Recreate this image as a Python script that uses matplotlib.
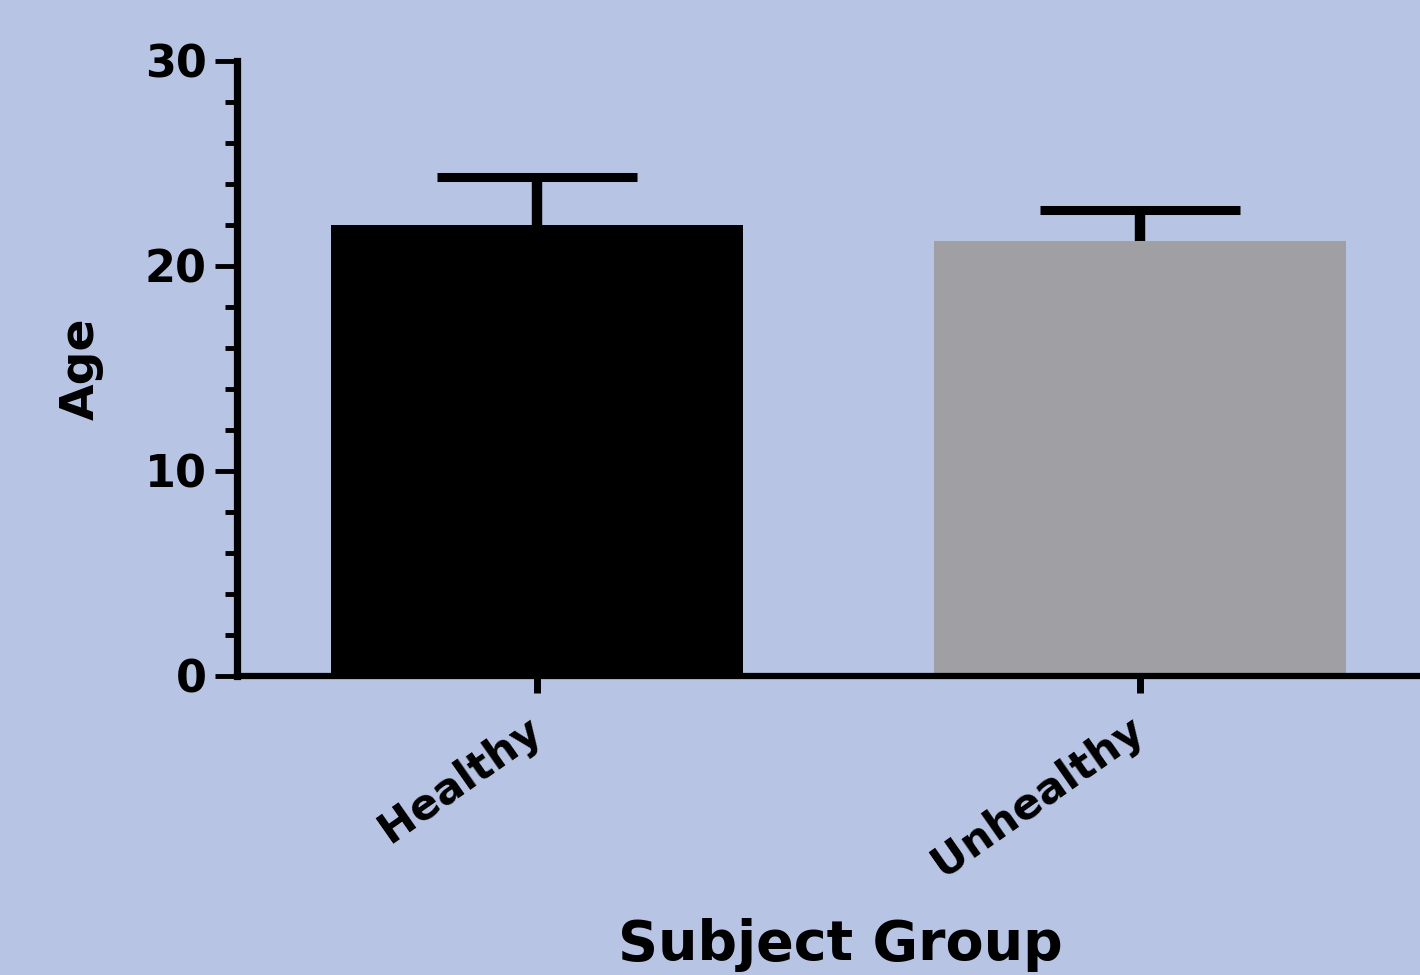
import matplotlib
matplotlib.use('Agg')
import matplotlib.pyplot as plt
from matplotlib.ticker import MultipleLocator

groups = ['Healthy', 'Unhealthy']
mean_age = [22.0, 21.2]
sem_age = [2.35, 1.55]
bar_colors = ['#000000', '#a09fa4']
yticks = [0, 10, 20, 30]

bg = '#b7c4e3'
plt.rcParams['font.family'] = 'DejaVu Sans'
plt.rcParams['font.weight'] = 'bold'

fig = plt.figure(figsize=(14.2, 9.75), dpi=100, facecolor=bg)
ax = fig.add_axes([237/1420, 299.5/975, 1183/1420, 614.5/975])
ax.set_facecolor(bg)

x = list(range(len(groups)))
ax.bar(x, mean_age, width=0.683, color=bar_colors, edgecolor='none', zorder=2)
# upper error bars only: hide the caps at the bar tops
eb = ax.errorbar(x, mean_age, yerr=[[0]*len(sem_age), sem_age], fmt='none',
                 ecolor='black', elinewidth=7.5, capsize=72, capthick=6.5, zorder=3)
eb[1][0].set_visible(False)

ax.set_xlim(-0.4975, 1.465)
ax.set_ylim(0, 30)
ax.set_yticks(yticks)
ax.yaxis.set_minor_locator(MultipleLocator(2))

for side in ['top', 'right']:
    ax.spines[side].set_visible(False)
ax.spines['left'].set_linewidth(5.2)
ax.spines['bottom'].set_linewidth(4.5)

ax.tick_params(axis='y', which='major', length=16, width=3.5, labelsize=32, pad=6)
ax.tick_params(axis='y', which='minor', length=9, width=3.5)
ax.tick_params(axis='x', which='major', length=12, width=5, pad=24)

ax.set_xticks(x)
ax.set_xticklabels(groups, rotation=35, ha='right', va='center',
                   rotation_mode='anchor', fontsize=31, fontweight='bold')
for lab in ax.get_yticklabels():
    lab.set_fontweight('bold')

ax.set_ylabel('Age', fontsize=34, fontweight='bold', va='center')
ax.yaxis.set_label_coords(-0.132, 0.5)
ax.set_xlabel('Subject Group', fontsize=40, fontweight='bold', va='top')
ax.xaxis.set_label_coords(0.51, -0.395)

plt.savefig('out.png', dpi=100, facecolor=bg)
